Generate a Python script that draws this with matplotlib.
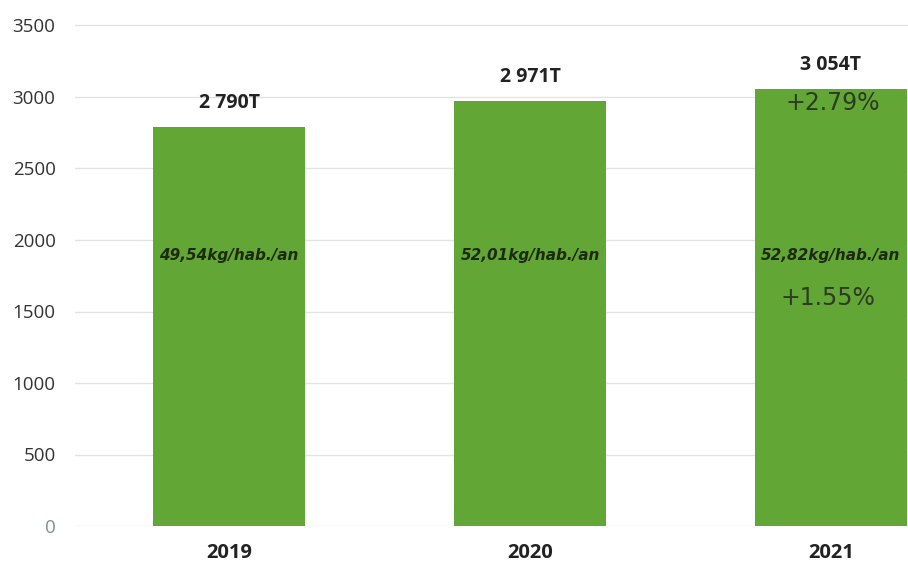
import matplotlib
matplotlib.use("Agg")
import matplotlib.pyplot as plt

years = ["2019", "2020", "2021"]
tonnes = [2790, 2971, 3054]
value_labels = ["2 790T", "2 971T", "3 054T"]
per_capita = ["49,54kg/hab./an", "52,01kg/hab./an", "52,82kg/hab./an"]
growth_total = "+2.79%"
growth_per_capita = "+1.55%"
yticks = [0, 500, 1000, 1500, 2000, 2500, 3000, 3500]

plt.rcParams["font.family"] = ["Open Sans", "DejaVu Sans"]

W, H = 908, 567
fig = plt.figure(figsize=(W / 100, H / 100), dpi=100)
left_px, right_px = 75, 908
bottom_px, top_px = 526, 20
ax = fig.add_axes([left_px / W, 1 - bottom_px / H,
                   (right_px - left_px) / W, (bottom_px - top_px) / H])

x = list(range(len(years)))
green = "#62a735"
ax.bar(x, tonnes, width=0.505, color=green, zorder=2)

ax.set_xlim(-0.512, 2.256)
ax.set_ylim(0, (bottom_px - top_px) / 143.0 * 1000)
ax.set_yticks(yticks)
ax.set_yticklabels([str(t) for t in yticks], fontsize=13.5, color="#333333")
ax.get_yticklabels()[0].set_color("#7f9090")
ax.tick_params(axis="y", length=0, pad=14)

ax.set_xticks(x)
ax.set_xticklabels(years, fontsize=14.5, fontweight="bold", color="#222222")
ax.tick_params(axis="x", length=0, pad=12)

ax.grid(axis="y", color="#e3e3e3", linewidth=1, zorder=0)
for s in ax.spines.values():
    s.set_visible(False)

# totals above the bars
for xi, v, lab in zip(x, tonnes, value_labels):
    ax.annotate(lab, (xi, v), xytext=(0, 10), textcoords="offset points",
                ha="center", va="bottom", fontsize=14, fontweight="bold",
                color="#222222")

# per-capita quantities inside the bars
for xi, lab in zip(x, per_capita):
    ax.text(xi, 1895, lab, ha="center", va="center", fontsize=11,
            fontweight="bold", fontstyle="italic", color="#1e2a10",
            family=["DejaVu Sans"])

# year-on-year growth for 2021
ax.text(2.005, 2958, growth_total, ha="center", va="center", fontsize=17,
        color="#2e3a22", family=["DejaVu Sans"])
ax.text(1.99, 1594, growth_per_capita, ha="center", va="center", fontsize=17,
        color="#2e3a22", family=["DejaVu Sans"])

fig.savefig("out.png", dpi=100)
